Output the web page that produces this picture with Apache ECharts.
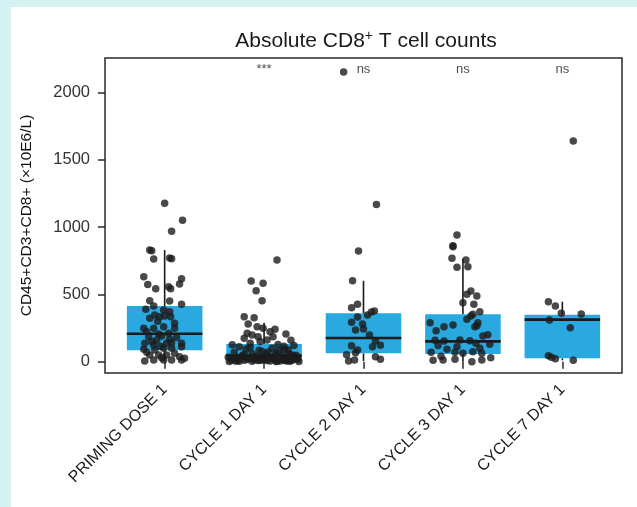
<!DOCTYPE html>
<html>
<head>
<meta charset="utf-8">
<script src="https://cdn.jsdelivr.net/npm/echarts@6/dist/echarts.min.js"></script>
<style>
  html, body { margin: 0; padding: 0; background: #d3f3f2; }
  .panel { position: absolute; left: 11px; top: 7px; right: 0; bottom: 0; background: #fff; }
  #chart { position: absolute; left: 0; top: 0; width: 637px; height: 507px; }
</style>
</head>
<body>
<div class="panel"></div>
<div id="chart"></div>
<script>
const categories = ["PRIMING DOSE 1", "CYCLE 1 DAY 1", "CYCLE 2 DAY 1", "CYCLE 3 DAY 1", "CYCLE 7 DAY 1"];
const significance = ["", "***", "ns", "ns", "ns"];
const yTicks = [0, 500, 1000, 1500, 2000];

// box statistics
const boxLow = [5, 0, 5, 0, 10];
const boxQ1 = [85, 10, 62, 57, 25];
const boxMedian = [208, 45, 176, 151, 312];
const boxQ3 = [413, 131, 359, 352, 349];
const boxHigh = [829, 290, 601, 762, 445];

// individual counts and their horizontal jitter (category units)
const primingValues = [1177, 1050, 968, 824, 830, 762, 770, 765, 631, 574, 542, 557, 542, 616, 577, 453, 450, 426, 413, 389, 384, 371,
  322, 347, 334, 339, 334, 248, 248, 285, 248, 260, 223, 206, 211, 186, 161, 191, 166, 137, 124, 137, 141, 137,
  92, 87, 99, 99, 111, 50, 50, 50, 62, 37, 13, 13, 13, 13, 180, 70, 30, 25, 115, 300, 5, 150];
const primingJitter = [0.00, 0.18, 0.07, -0.13, -0.15, -0.11, 0.05, 0.07, -0.21, -0.17, -0.09, 0.04, 0.06, 0.17, 0.15, -0.15, 0.05, 0.17, -0.11, -0.19, -0.01, 0.05,
  -0.15, -0.10, -0.05, 0.00, 0.06, -0.21, -0.11, 0.10, 0.10, -0.01, -0.18, -0.06, 0.04, -0.16, -0.08, -0.03, 0.05, -0.20, -0.11, 0.02, 0.07, 0.17,
  -0.21, -0.10, -0.01, 0.07, 0.17, -0.15, -0.06, 0.02, 0.10, 0.15, -0.11, -0.01, 0.07, 0.17, 0.12, -0.18, -0.03, 0.20, -0.04, -0.07, -0.20, -0.13];

const cycle1Values = [755, 599, 582, 527, 453, 334, 327, 280, 260, 248, 211, 198, 186, 223, 240, 174, 137, 149, 161, 186,
  205, 160, 120, 90, 60, 30, 10,
  110, 95, 85, 100, 80, 70, 60, 55, 65, 45, 40, 35, 42, 30, 25, 20, 18, 22, 12, 10, 8, 6, 5, 4, 15, 3, 2, 28, 50, 75,
  125, 115, 105, 88, 72, 58, 48, 128, 38, 33, 27, 24, 19, 16, 14, 11, 9, 7, 5, 4, 3, 2, 1, 36, 44, 26, 17, 12, 9, 6, 3];
const cycle1Jitter = [0.13, -0.13, -0.01, -0.08, -0.02, -0.20, -0.10, -0.16, -0.07, -0.01, -0.17, -0.12, -0.06, 0.06, 0.11, -0.20, -0.14, -0.04, 0.03, 0.09,
  0.22, 0.27, 0.30, 0.20, 0.25, 0.33, 0.28,
  -0.25, -0.18, -0.05, 0.08, 0.15, -0.30, -0.12, 0.02, 0.12, -0.22, -0.08, 0.05, 0.18, -0.28, -0.15, 0.00, 0.10, 0.22, -0.33, -0.20, -0.06, 0.06, 0.16, 0.26, -0.10, -0.25, 0.12, -0.02, 0.28, -0.02,
  -0.32, 0.20, -0.14, 0.24, 0.04, -0.20, 0.32, 0.14, 0.30, -0.36, 0.09, -0.30, 0.34, -0.17, 0.19, -0.04, 0.03, -0.27, 0.23, -0.12, 0.13, 0.35, -0.35, -0.22, 0.11, -0.09, 0.29, -0.01, 0.21, -0.29];

const cycle2Values = [2151, 1168, 822, 601, 401, 426, 347, 369, 376, 332, 292, 280, 243, 235, 198, 154, 122, 119, 111, 87, 67, 52, 37, 18, 5, 13];
const cycle2Jitter = [-0.20, 0.13, -0.05, -0.11, -0.12, -0.06, 0.04, 0.08, 0.11, -0.06, -0.12, -0.01, 0.00, -0.08, 0.06, 0.12, 0.17, -0.12, 0.09, -0.06, -0.08, -0.17, 0.12, 0.17, -0.15, -0.09];

const cycle3Values = [941, 861, 854, 768, 701, 755, 705, 525, 500, 488, 438, 426, 371, 352, 339, 315, 260, 272, 267, 290, 260, 191,
  154, 161, 156, 137, 92, 111, 99, 70, 62, 74, 62, 13, 18, 0, 13, 160, 120, 70, 40, 10, 230, 290, 200, 130, 30];
const cycle3Jitter = [-0.06, -0.10, -0.10, -0.11, -0.06, 0.03, 0.05, 0.08, 0.04, 0.14, 0.00, 0.11, 0.17, 0.10, 0.08, 0.04, -0.19, -0.10, 0.14, 0.15, 0.12, 0.20,
  -0.19, -0.03, 0.07, 0.13, -0.16, -0.06, 0.17, -0.08, 0.00, 0.10, 0.19, -0.20, -0.08, 0.09, 0.19, -0.28, -0.25, -0.32, -0.22, -0.30, -0.27, -0.33, 0.25, 0.27, 0.28];

const cycle7Values = [445, 413, 359, 354, 310, 252, 45, 33, 22, 10, 1638];
const cycle7Jitter = [-0.14, -0.07, -0.01, 0.19, -0.13, 0.08, -0.14, -0.11, -0.07, 0.11, 0.11];

const groupValues = [primingValues, cycle1Values, cycle2Values, cycle3Values, cycle7Values];
const groupJitter = [primingJitter, cycle1Jitter, cycle2Jitter, cycle3Jitter, cycle7Jitter];

const boxWidth = 0.76;
const fontFamily = "'Liberation Sans', Arial, Helvetica, sans-serif";

let myChart = echarts.init(document.getElementById("chart"));

let boxData = categories.map((c, i) => [i + 1, boxLow[i], boxQ1[i], boxMedian[i], boxQ3[i], boxHigh[i]]);
let pointData = [];
groupValues.forEach((vals, i) => {
  vals.forEach((v, j) => {
    pointData.push([i + 1 + groupJitter[i][j], v]);
  });
});
let annotationData = [];
significance.forEach((s, i) => {
  if (s) annotationData.push({ value: [i + 1, 2173], label: { formatter: s } });
});

let option = {
  animation: false,
  title: {
    text: "{a|Absolute CD8}{s|+}{a| T cell counts}",
    left: 361,
    top: 24,
    textAlign: "center",
    textStyle: {
      fontWeight: "normal",
      rich: {
        a: { fontSize: 21, color: "#1a1a1a", fontFamily: fontFamily, fontWeight: "normal" },
        s: { fontSize: 14, color: "#1a1a1a", fontFamily: fontFamily, fontWeight: "normal", verticalAlign: "top", padding: [0, 0, 10, 0] },
      },
    },
  },
  grid: {
    left: 105,
    right: 15,
    top: 58,
    bottom: 134,
    show: true,
    borderColor: "#2a2a2a",
    borderWidth: 1.5,
    backgroundColor: "#fff",
  },
  xAxis: {
    type: "value",
    min: 0.4,
    max: 5.6,
    splitLine: { show: false },
    axisLine: { show: false },
    axisTick: {
      show: true,
      customValues: [1, 2, 3, 4, 5],
      length: 7,
      lineStyle: { color: "#2a2a2a", width: 1.5 },
    },
    axisLabel: {
      customValues: [1, 2, 3, 4, 5],
      formatter: (v) => categories[Math.round(v) - 1] || "",
      rotate: 45,
      margin: 14,
      fontSize: 16,
      color: "#1a1a1a",
      fontFamily: fontFamily,
    },
  },
  yAxis: {
    type: "value",
    min: -84,
    max: 2255,
    name: "CD45+CD3+CD8+ (×10E6/L)",
    nameLocation: "middle",
    nameGap: 70,
    nameTextStyle: {
      fontSize: 15.5,
      color: "#111",
      fontFamily: "'Liberation Sans Narrow', 'Arial Narrow', 'Liberation Sans', sans-serif",
    },
    splitLine: { show: false },
    axisLine: { show: false },
    axisTick: {
      show: true,
      customValues: yTicks,
      length: 7,
      lineStyle: { color: "#2a2a2a", width: 1.5 },
    },
    axisLabel: {
      customValues: yTicks,
      formatter: (v) => String(v),
      fontSize: 16.5,
      margin: 15,
      color: "#333",
      fontFamily: fontFamily,
    },
  },
  series: [
    {
      type: "custom",
      data: boxData,
      encode: { x: 0, y: [1, 2, 3, 4, 5] },
      z: 2,
      renderItem: function (params, api) {
        let x = api.value(0);
        let lo = api.coord([x, api.value(1)]);
        let q1 = api.coord([x, api.value(2)]);
        let med = api.coord([x, api.value(3)]);
        let q3 = api.coord([x, api.value(4)]);
        let hi = api.coord([x, api.value(5)]);
        let half = api.size([boxWidth, 0])[0] / 2;
        let lineStyle = { stroke: "#1a1a1a", lineWidth: 1.6 };
        return {
          type: "group",
          children: [
            { type: "line", shape: { x1: lo[0], y1: lo[1], x2: q1[0], y2: q1[1] }, style: lineStyle },
            { type: "line", shape: { x1: q3[0], y1: q3[1], x2: hi[0], y2: hi[1] }, style: lineStyle },
            {
              type: "rect",
              shape: { x: q3[0] - half, y: q3[1], width: half * 2, height: q1[1] - q3[1] },
              style: { fill: "#29a9e0" },
            },
            {
              type: "line",
              shape: { x1: med[0] - half, y1: med[1], x2: med[0] + half, y2: med[1] },
              style: { stroke: "#1a1a1a", lineWidth: 2.6 },
            },
          ],
        };
      },
    },
    {
      type: "scatter",
      data: pointData,
      symbolSize: 7.5,
      z: 3,
      itemStyle: { color: "#1c1c1c" },
    },
    {
      type: "scatter",
      data: annotationData,
      symbolSize: 0,
      z: 4,
      label: {
        show: true,
        position: "inside",
        fontSize: 13,
        color: "#222",
        fontFamily: fontFamily,
      },
    },
  ],
};
myChart.setOption(option);
</script>
</body>
</html>
